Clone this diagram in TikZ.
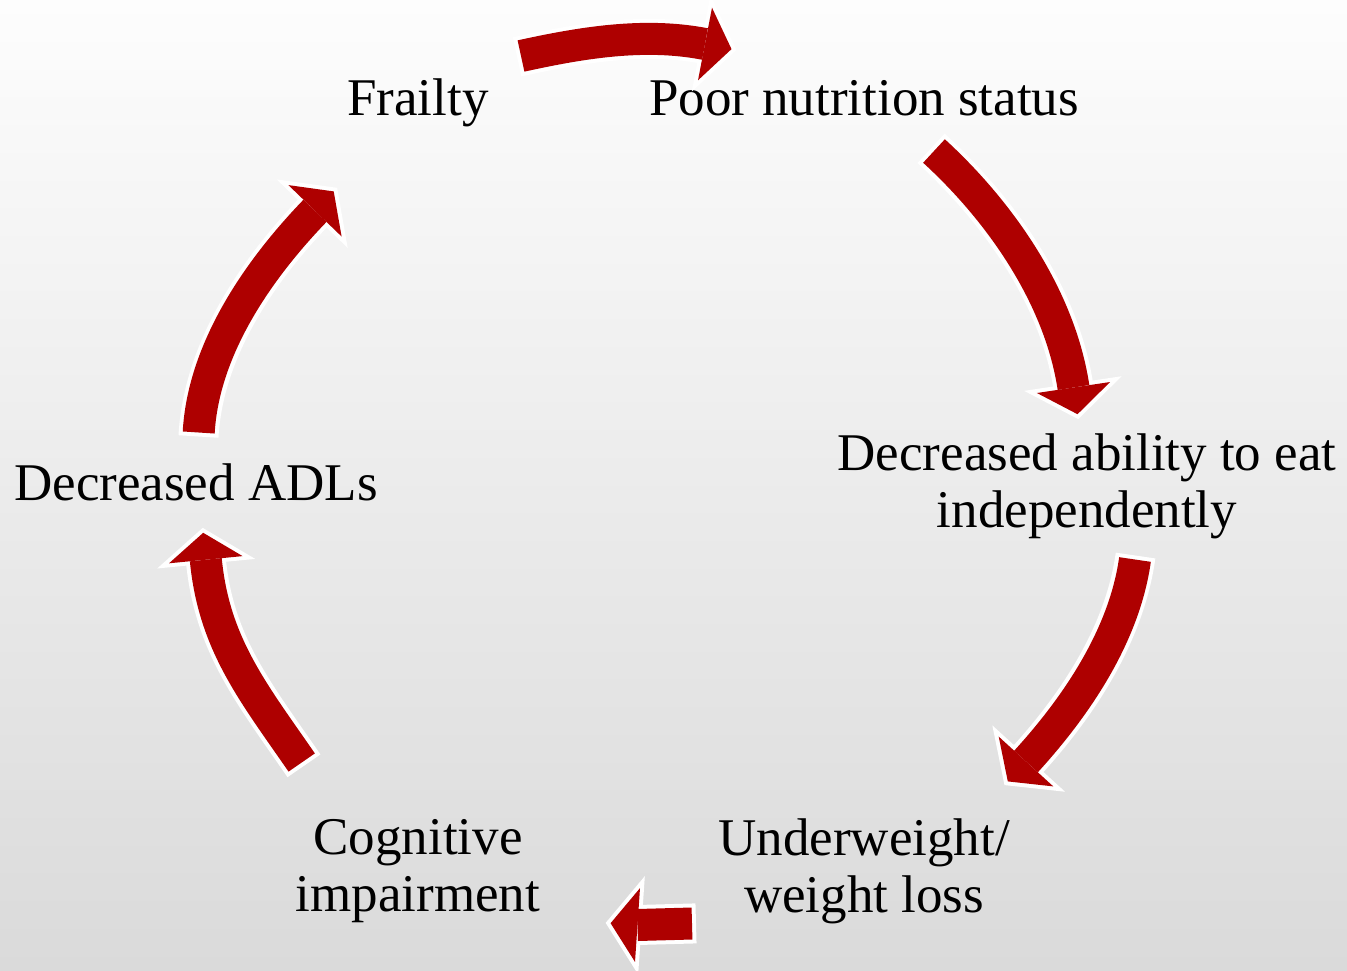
\documentclass[tikz,border=0pt]{standalone}
\usepackage{fontspec}
\setmainfont{Liberation Serif}
\definecolor{arrowred}{RGB}{174,0,0}
\definecolor{bgtop}{RGB}{253,253,253}
\definecolor{bgmid}{RGB}{241,241,241}
\definecolor{bgbot}{RGB}{218,218,218}
\tikzset{
  shaftw/.style={draw=white, line width=40pt, shorten <=-4pt},
  shaftr/.style={draw=arrowred, line width=32pt},
  headw/.style={fill=white, draw=white, line width=8pt, line join=miter},
  headr/.style={fill=arrowred},
  lbl/.style={font=\fontsize{53}{57}\selectfont, align=center, text=black, inner sep=0pt}
}
\begin{document}
\begin{tikzpicture}[x=1pt, y=-1pt]
\useasboundingbox (0,0) rectangle (1347,970);
\shade[top color=bgtop, middle color=bgmid, bottom color=bgbot] (0,0) rectangle (1347,970);

% labels
\node[lbl, anchor=base] (frailty) at (418,115) {Frailty};
\node[lbl, anchor=base] (poor) at (864,115) {Poor nutrition status};
\node[lbl] (ability) at (1087,486) {Decreased ability to eat\\independently};
\node[lbl] (under) at (864,871) {Underweight/\\weight loss};
\node[lbl] (cog) at (418,871) {Cognitive\\impairment};
\node[lbl, anchor=base] (adl) at (196,500) {Decreased ADLs};

% arrow 1: Frailty -> Poor nutrition status
\coordinate (a1s) at (521,56); \coordinate (a1b) at (705,44);
\coordinate (a1l) at (698,80.3); \coordinate (a1r) at (712,7.7); \coordinate (a1t) at (731.5,49.1);
% arrow 2
\coordinate (a2s) at (934,151); \coordinate (a2b) at (1073.5,387.5);
\coordinate (a2l) at (1036.9,393); \coordinate (a2r) at (1110.1,382); \coordinate (a2t) at (1077.5,414.2);
% arrow 3
\coordinate (a3s) at (1135,559.5); \coordinate (a3b) at (1026,761.5);
\coordinate (a3l) at (998.7,736.6); \coordinate (a3r) at (1053.3,786.4); \coordinate (a3t) at (1007.8,781.4);
% arrow 4
\coordinate (a4s) at (692,923.5); \coordinate (a4b) at (637.5,925);
\coordinate (a4l) at (640,888.1); \coordinate (a4r) at (635,961.9); \coordinate (a4t) at (610.6,923.2);
% arrow 5
\coordinate (a5s) at (301.7,762.5); \coordinate (a5b) at (205.8,559.7);
\coordinate (a5l) at (242.6,556.1); \coordinate (a5r) at (169,563.3); \coordinate (a5t) at (203.2,532.8);
% arrow 6
\coordinate (a6s) at (198.7,432.5); \coordinate (a6b) at (315,210.8);
\coordinate (a6l) at (341.6,236.5); \coordinate (a6r) at (288.4,185.1); \coordinate (a6t) at (333.7,191.4);

% white outlines
\draw[shaftw] (a1s) .. controls (581.6,42.7) and (644.2,32.2) .. (a1b);
\draw[shaftw] (a2s) .. controls (1001,212.4) and (1059.9,297.5) .. (a2b);
\draw[shaftw] (a3s) .. controls (1124.5,634.9) and (1077.2,705.4) .. (a3b);
\draw[shaftw] (a4s) -- (a4b);
\draw[shaftw] (a5s) .. controls (253.4,692.5) and (214,644.3) .. (a5b);
\draw[shaftw] (a6s) .. controls (203.3,349.7) and (257.4,270.5) .. (a6b);
\foreach \i in {1,...,6} { \path[headw] (a\i l) -- (a\i t) -- (a\i r) -- cycle; }

% red arrows
\draw[shaftr] (a1s) .. controls (581.6,42.7) and (644.2,32.2) .. (a1b);
\draw[shaftr] (a2s) .. controls (1001,212.4) and (1059.9,297.5) .. (a2b);
\draw[shaftr] (a3s) .. controls (1124.5,634.9) and (1077.2,705.4) .. (a3b);
\draw[shaftr] (a4s) -- (a4b);
\draw[shaftr] (a5s) .. controls (253.4,692.5) and (214,644.3) .. (a5b);
\draw[shaftr] (a6s) .. controls (203.3,349.7) and (257.4,270.5) .. (a6b);
\foreach \i in {1,...,6} { \path[headr] (a\i l) -- (a\i t) -- (a\i r) -- cycle; }
\end{tikzpicture}
\end{document}
